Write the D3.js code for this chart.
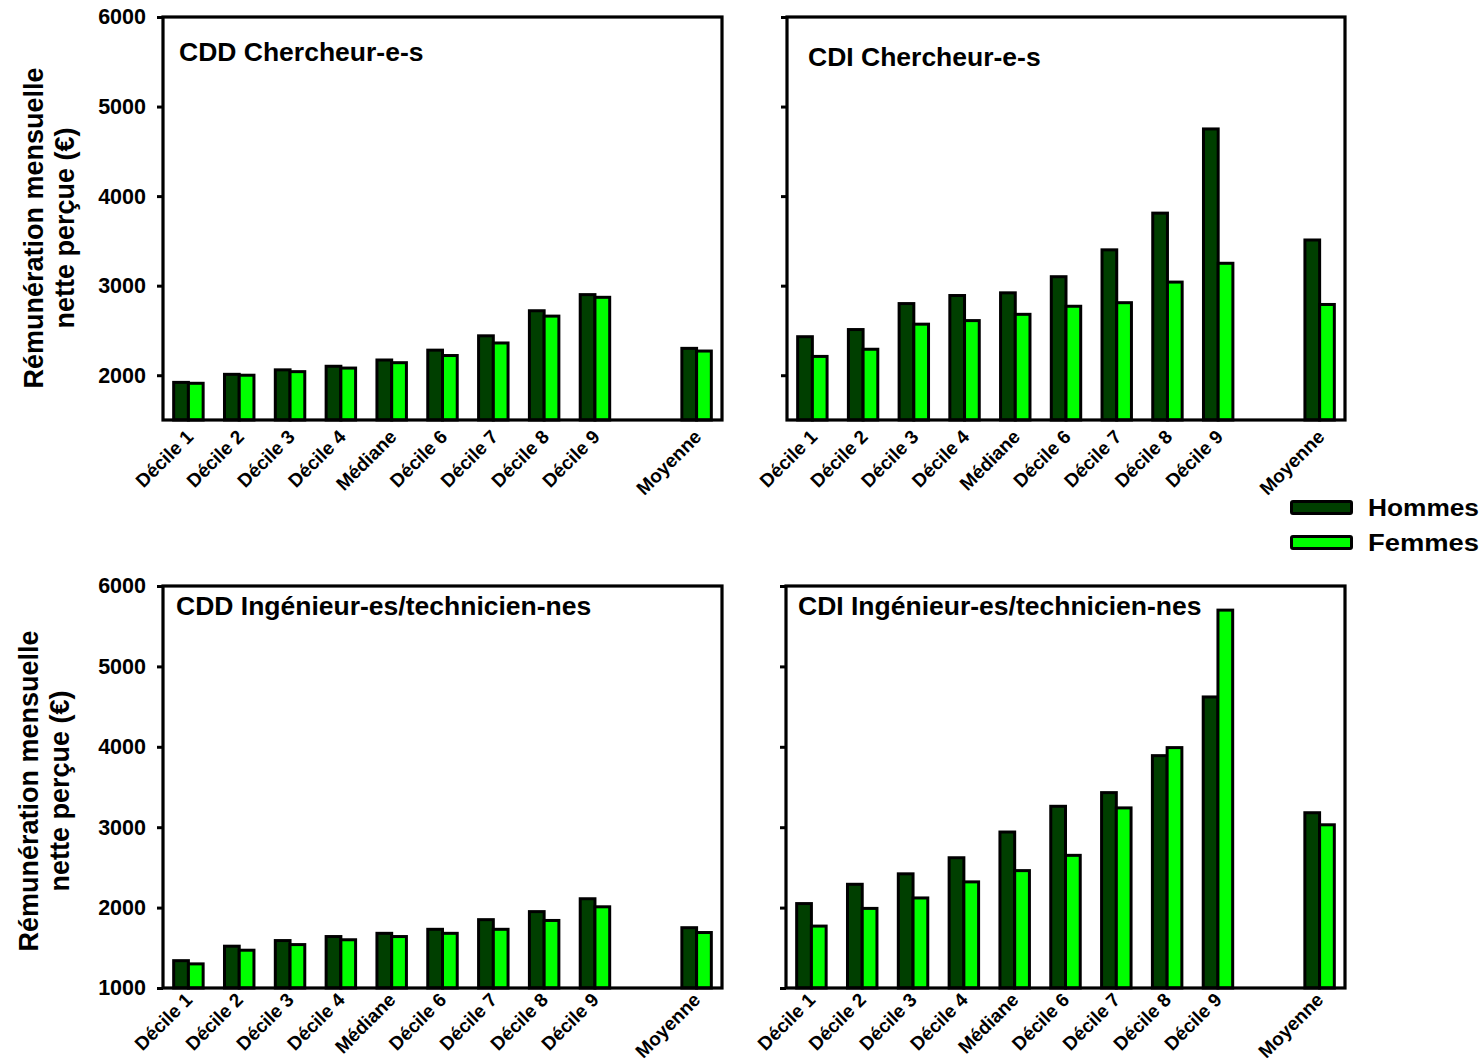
<!DOCTYPE html>
<html>
<head>
<meta charset="utf-8">
<script src="https://cdn.jsdelivr.net/npm/d3@7/dist/d3.min.js"></script>
<style>
  html, body { margin: 0; padding: 0; background: #fff; }
  svg { display: block; }
  text { font-family: "Liberation Sans", Arial, sans-serif; font-weight: bold; fill: #000; }
</style>
</head>
<body>
<script>
// ---- Data ----
const categories = ["Décile 1", "Décile 2", "Décile 3", "Décile 4", "Médiane",
                    "Décile 6", "Décile 7", "Décile 8", "Décile 9", "Moyenne"];
const series = ["Hommes", "Femmes"];

const cddChercheurHommes = [1920, 2010, 2060, 2100, 2170, 2280, 2440, 2720, 2900, 2300];
const cddChercheurFemmes = [1910, 2000, 2040, 2080, 2140, 2220, 2360, 2660, 2870, 2270];
const cdiChercheurHommes = [2430, 2510, 2800, 2890, 2920, 3100, 3400, 3810, 4750, 3510];
const cdiChercheurFemmes = [2210, 2290, 2570, 2610, 2680, 2770, 2810, 3040, 3250, 2790];
const cddIngenieurHommes = [1340, 1520, 1590, 1640, 1680, 1730, 1850, 1950, 2110, 1750];
const cddIngenieurFemmes = [1300, 1470, 1540, 1600, 1640, 1680, 1730, 1840, 2010, 1690];
const cdiIngenieurHommes = [2050, 2290, 2420, 2620, 2940, 3260, 3430, 3890, 4620, 3180];
const cdiIngenieurFemmes = [1770, 1990, 2120, 2320, 2460, 2650, 3240, 3990, 5700, 3030];

const topTicks = [2000, 3000, 4000, 5000, 6000];
const bottomTicks = [1000, 2000, 3000, 4000, 5000, 6000];

const panelTitles = ["CDD Chercheur-e-s", "CDI Chercheur-e-s",
                     "CDD Ingénieur-es/technicien-nes", "CDI Ingénieur-es/technicien-nes"];
const yTitleLines = ["Rémunération mensuelle", "nette perçue (€)"];
const colors = { Hommes: "#003f00", Femmes: "#00ff00" };

// ---- Layout ----
const W = 1484, H = 1062;
const svg = d3.select("body").append("svg").attr("width", W).attr("height", H);

// slot domain includes an empty gap before "Moyenne"
const slots = categories.slice(0, 9).concat(["__gap__"], categories.slice(9));

const panels = [
  { title: panelTitles[0], h: cddChercheurHommes, f: cddChercheurFemmes, x0: 163, x1: 722, y0: 17, y1: 420, domain: [1500, 6000], ticks: topTicks, labels: true, tx: 179, ty: 61, lx: 6, ly: 18 },
  { title: panelTitles[1], h: cdiChercheurHommes, f: cdiChercheurFemmes, x0: 787, x1: 1345, y0: 17, y1: 420, domain: [1500, 6000], ticks: topTicks, labels: false, tx: 808, ty: 66, lx: 6, ly: 18 },
  { title: panelTitles[2], h: cddIngenieurHommes, f: cddIngenieurFemmes, x0: 163, x1: 722, y0: 586, y1: 988, domain: [1000, 6000], ticks: bottomTicks, labels: true, tx: 176, ty: 615, lx: 5, ly: 13 },
  { title: panelTitles[3], h: cdiIngenieurHommes, f: cdiIngenieurFemmes, x0: 786, x1: 1345, y0: 586, y1: 988, domain: [1000, 6000], ticks: bottomTicks, labels: false, tx: 798, ty: 615, lx: 5, ly: 13 }
];

panels.forEach((p, pi) => {
  const g = svg.append("g");
  const x = d3.scaleBand().domain(slots).range([p.x0, p.x1]).paddingInner(0.42).paddingOuter(0.21);
  const xs = d3.scaleBand().domain(series).range([0, x.bandwidth()]);
  const y = d3.scaleLinear().domain(p.domain).range([p.y1, p.y0]);

  const rows = categories.map((c, i) => ({ cat: c, Hommes: p.h[i], Femmes: p.f[i] }));

  const grp = g.selectAll("g.cat").data(rows).enter().append("g")
    .attr("transform", d => `translate(${x(d.cat)},0)`);
  grp.selectAll("rect").data(d => series.map(s => ({ s, v: d[s] }))).enter().append("rect")
    .attr("x", d => xs(d.s))
    .attr("width", xs.bandwidth())
    .attr("y", d => y(d.v))
    .attr("height", d => y(p.domain[0]) - y(d.v))
    .attr("fill", d => colors[d.s])
    .attr("stroke", "#000")
    .attr("stroke-width", 3);

  // frame
  g.append("rect")
    .attr("x", p.x0).attr("y", p.y0)
    .attr("width", p.x1 - p.x0).attr("height", p.y1 - p.y0)
    .attr("fill", "none").attr("stroke", "#000").attr("stroke-width", 3.2);

  // y axis
  const yAxis = d3.axisLeft(y).tickValues(p.ticks).tickSize(6).tickPadding(11)
    .tickFormat(p.labels ? d3.format("d") : () => "");
  const ya = g.append("g").attr("transform", `translate(${p.x0},0)`).call(yAxis);
  ya.select(".domain").remove();
  ya.selectAll(".tick line").attr("stroke", "#000").attr("stroke-width", 3);
  ya.selectAll(".tick text").style("font-size", "21.5px").style("font-family", '"Liberation Sans", Arial, sans-serif').style("font-weight", "bold").attr("fill", "#000");

  // x axis labels
  const xAxis = d3.axisBottom(x).tickValues(categories).tickSize(0).tickPadding(0);
  const xa = g.append("g").attr("transform", `translate(0,${p.y1})`).call(xAxis);
  xa.select(".domain").remove();
  xa.selectAll(".tick text")
    .attr("text-anchor", "end")
    .attr("dy", null)
    .attr("y", 0)
    .attr("transform", `translate(${p.lx},${p.ly}) rotate(-45)`)
    .style("font-size", "19px")
    .style("font-family", '"Liberation Sans", Arial, sans-serif')
    .style("font-weight", "bold")
    .attr("fill", "#000");

  // panel title
  g.append("text").attr("x", p.tx).attr("y", p.ty).style("font-size", "26.5px").text(p.title);
});

// y axis titles (left panels)
[[228, 43, 74], [791, 38, 69]].forEach(([cy, b1, b2]) => {
  svg.append("text").attr("transform", `translate(${b1},${cy}) rotate(-90)`)
    .attr("text-anchor", "middle").style("font-size", "27px").text(yTitleLines[0]);
  svg.append("text").attr("transform", `translate(${b2},${cy}) rotate(-90)`)
    .attr("text-anchor", "middle").style("font-size", "27px").text(yTitleLines[1]);
});

// legend
const leg = svg.append("g");
series.forEach((s, i) => {
  const yy = 500 + i * 35;
  leg.append("rect").attr("x", 1291.5).attr("y", yy + 1.5).attr("width", 60).attr("height", 12)
    .attr("fill", colors[s]).attr("stroke", "#000").attr("stroke-width", 3).attr("rx", 1.5);
  leg.append("text").attr("x", 1368).attr("y", yy + 16)
    .style("font-size", "23px").attr("textLength", 111).attr("lengthAdjust", "spacingAndGlyphs").text(s);
});
</script>
</body>
</html>
